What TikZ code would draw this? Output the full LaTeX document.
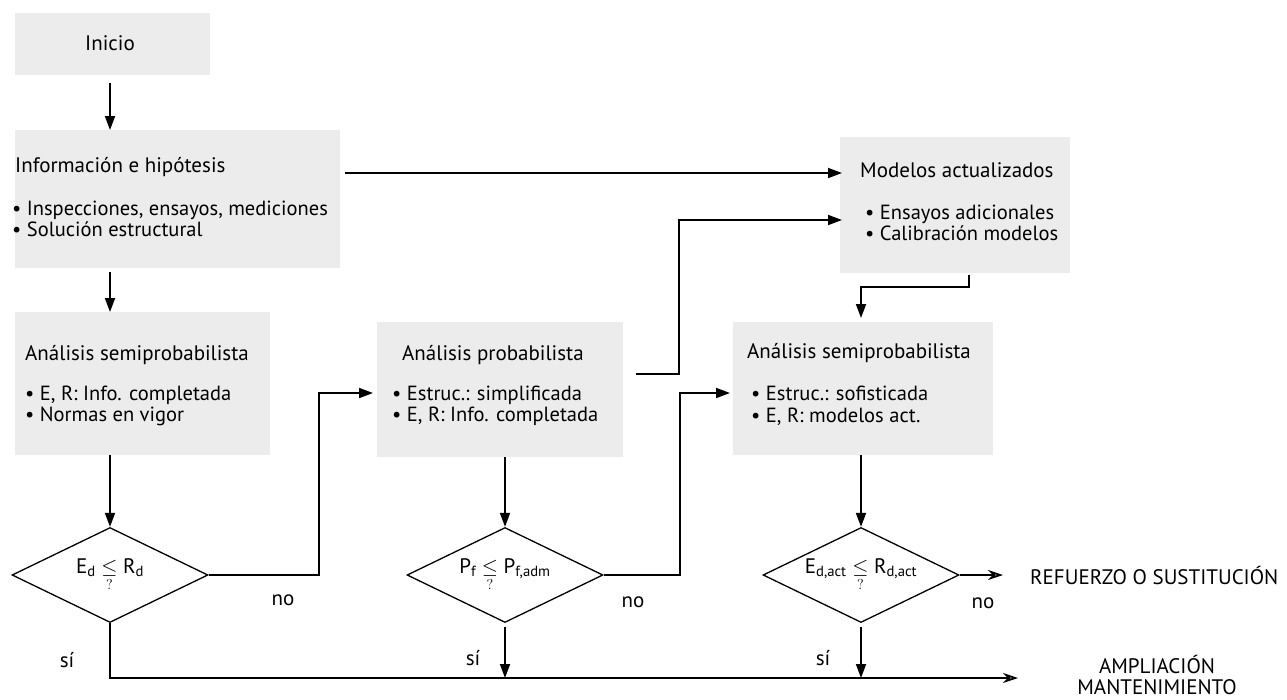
\documentclass[tikz,border=0pt]{standalone}
\usepackage{amsmath}
\usepackage{fontspec}
\setmainfont{PT Sans}
\usetikzlibrary{shapes.geometric,arrows.meta}
\begin{document}
\begin{tikzpicture}[x=1pt,y=-1pt,
  box/.style={fill=gray!15, draw=none, inner sep=0pt, anchor=north west},
  ttl/.style={anchor=west, font=\fontsize{21}{22}\selectfont, inner sep=0pt},
  itm/.style={anchor=west, align=left, font=\fontsize{20.5}{21.5}\selectfont, inner sep=0pt},
  dec/.style={diamond, draw, line width=1.3pt, minimum width=196pt, minimum height=95pt, inner sep=0pt, aspect=2, font=\fontsize{21}{22}\selectfont},
  arr/.style={line width=1.8pt, -{Triangle[length=14pt,width=10pt]}},
  oarr/.style={line width=1.8pt, -{Stealth[open, length=15pt, width=10pt]}},
  lbl/.style={font=\fontsize{21}{22}\selectfont, inner sep=0pt},
  outtxt/.style={font=\fontsize{21}{20.5}\selectfont, inner sep=0pt, align=center}]
\useasboundingbox (0,0) rectangle (1287,699);

% shaded boxes
\node[box, minimum width=195pt, minimum height=62pt] (inicio) at (15,13) {};
\node[box, minimum width=325pt, minimum height=138pt] (info) at (15,130) {};
\node[box, minimum width=255pt, minimum height=143pt] (semi1) at (15,312) {};
\node[box, minimum width=246pt, minimum height=135pt] (prob) at (377,322) {};
\node[box, minimum width=230pt, minimum height=136pt] (modelos) at (840,137) {};
\node[box, minimum width=260pt, minimum height=133pt] (semi2) at (733,322) {};

% texts
\node[ttl, anchor=center] (tinicio) at (110,43) {Inicio};
\node[ttl] (tinfo) at (15,167) {Información e hipótesis};
\node[itm] (iinfo) at (12,219) {\textbullet\ Inspecciones, ensayos, mediciones\\\textbullet\ Solución estructural};
\node[ttl] (tsemi1) at (25,355) {Análisis semiprobabilista};
\node[itm] (isemi1) at (25,406) {\textbullet\ E, R: Info. completada\\\textbullet\ Normas en vigor};
\node[ttl] (tprob) at (402,355) {Análisis probabilista};
\node[itm] (iprob) at (392,406) {\textbullet\ Estruc.: simplificada\\\textbullet\ E, R: Info. completada};
\node[ttl] (tmod) at (860,170) {Modelos actualizados};
\node[itm] (imod) at (865,223) {\textbullet\ Ensayos adicionales\\\textbullet\ Calibración modelos};
\node[ttl] (tsemi2) at (747,353) {Análisis semiprobabilista};
\node[itm] (isemi2) at (751,406) {\textbullet\ Estruc.: sofisticada\\\textbullet\ E, R: modelos act.};

% decisions
\node[dec] (d1) at (110,575) {E\textsubscript{d} $\underset{?}{\leq}$ R\textsubscript{d}};
\node[dec] (d2) at (505,575) {P\textsubscript{f} $\underset{?}{\leq}$ P\textsubscript{f,adm}};
\node[dec] (d3) at (861,575) {E\textsubscript{d,act} $\underset{?}{\leq}$ R\textsubscript{d,act}};

% outcomes
\node[outtxt, anchor=west] (refuerzo) at (1030,575) {REFUERZO O SUSTITUCIÓN};
\node[outtxt] (ampl) at (1157,675) {AMPLIACIÓN\\MANTENIMIENTO};

% labels
\node[lbl] (no1) at (283,600) {no};
\node[lbl] (no2) at (633,602) {no};
\node[lbl] (no3) at (983,603) {no};
\node[lbl] (si1) at (67,660) {sí};
\node[lbl] (si2) at (473,658) {sí};
\node[lbl] (si3) at (823,658) {sí};

% connector end points
\coordinate (pin) at (373,393);
\coordinate (s2in) at (730,393);
\coordinate (pout) at (636,374);
\coordinate (min) at (842,220);
\coordinate (mtop) at (842,173);
\coordinate (mout) at (969,275);
\coordinate (refin) at (1003,575);
\coordinate (ampin) at (1018,678);

% connectors
\draw[arr] ([yshift=-8pt]inicio.south -| d1) -- (info.north -| d1);
\draw[arr] ([yshift=-4pt]info.south -| d1) -- (semi1.north -| d1);
\draw[arr] (semi1.south -| d1) -- (d1.north);
\draw[arr] (d1.east) -- ++(110,0) |- (pin);
\draw[arr] (prob.south -| d2) -- (d2.north);
\draw[arr] (d2.east) -- ++(76,0) |- (s2in);
\draw[arr] (pout) -- ++(43,0) |- (min);
\draw[arr] ([xshift=5pt]info.east |- mtop) -- (mtop);
\draw[arr] (mout) -- ++(0,12) -| ([yshift=4pt]semi2.north -| d3);
\draw[arr] (semi2.south -| d3) -- (d3.north);
\draw[oarr] (d3.east) -- (refin);
\draw[oarr] (d1.south) |- (ampin);
\draw[arr] ([yshift=-4pt]d2.south) -- (d2.south |- ampin);
\draw[arr] ([yshift=-4pt]d3.south) -- (d3.south |- ampin);
\end{tikzpicture}
\end{document}
